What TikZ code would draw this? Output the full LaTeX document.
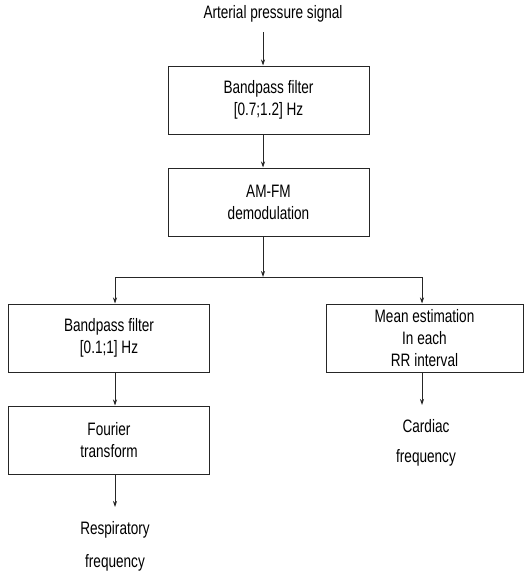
\documentclass[tikz,border=0pt]{standalone}
\usepackage{fontspec}
\setmainfont[FakeStretch=0.755]{Liberation Sans}
\usetikzlibrary{arrows.meta}
\newcommand{\fs}{\fontsize{18}{22}\selectfont}
\begin{document}
\begin{tikzpicture}[x=1pt,y=-1pt,
  box/.style={draw=black!85, line width=1pt, minimum width=201pt, minimum height=68pt, inner sep=0pt, align=center, font=\fs},
  lbl/.style={inner sep=0pt, align=center, font=\fs},
  conn/.style={draw=black!85, line width=0.8pt},
  arr/.style={conn, -{Stealth[length=6pt,width=4pt]}}]
\useasboundingbox (0,0) rectangle (525,581);
\node[lbl] (title) at (273,14) {Arterial pressure signal};
\coordinate (start) at (263,32);
\node[box] (b1) at (268.5,100) {Bandpass filter\\{}[0.7;1.2] Hz};
\node[box] (b2) at (268.5,202) {AM-FM\\demodulation};
\node[box] (b3) at (109,338) {Bandpass filter\\{}[0.1;1] Hz};
\node[box] (b4) at (109,440) {Fourier\\transform};
\node[box, minimum width=197pt] (b5) at (424.5,338) {Mean estimation\\In each\\RR interval};
\coordinate (mid) at (263,277);
\coordinate (jl) at (115,277);
\coordinate (jr) at (422,277);
\coordinate (cx) at (263,0);
\coordinate (lx) at (115,0);
\node[lbl] (resp) at (115,530) {Respiratory};
\node[lbl] (respf) at (115,563) {frequency};
\node[lbl] (card) at (426,426) {Cardiac};
\node[lbl] (cardf) at (426,458) {frequency};
\coordinate (respin) at (115,507);
\coordinate (cardin) at (422,405);
\draw[arr] (start) -- (b1.north -| cx);
\draw[arr] (b1.south -| cx) -- (b2.north -| cx);
\draw[arr] (b2.south -| cx) -- (mid);
\draw[conn] (jl) -- (jr);
\draw[arr] (jl) -- (b3.north -| jl);
\draw[arr] (jr) -- (b5.north -| jr);
\draw[arr] (b3.south -| lx) -- (b4.north -| lx);
\draw[arr] (b4.south -| lx) -- (respin);
\draw[arr] (b5.south -| cardin) -- (cardin);
\end{tikzpicture}
\end{document}
